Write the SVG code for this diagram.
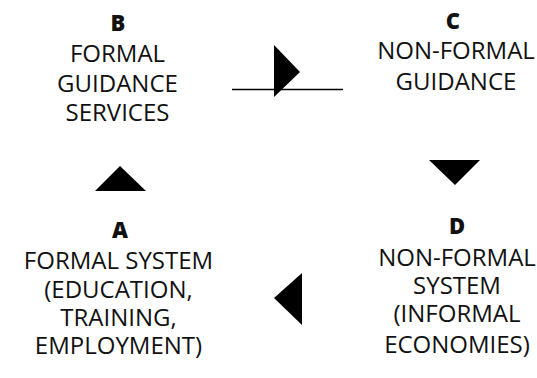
<svg xmlns="http://www.w3.org/2000/svg" width="537" height="378" viewBox="0 0 537 378">
  <style>
    .lbl { font-family: "Open Sans", "Noto Sans", "DejaVu Sans", sans-serif; font-size: 24px; fill: #111; text-anchor: middle; }
    .key { font-family: "Open Sans", "Noto Sans", "DejaVu Sans", sans-serif; font-size: 22px; font-weight: 800; fill: #111; text-anchor: middle; }
    .arrow { fill: #000; stroke: none; }
    .rule { stroke: #000; stroke-width: 1.4; fill: none; }
  </style>
  <rect width="537" height="378" fill="#fff"/>
  <g id="nodeB">
    <text class="key" x="118" y="31">B</text>
    <text class="lbl" x="117.5" y="62">FORMAL</text>
    <text class="lbl" x="117.5" y="92">GUIDANCE</text>
    <text class="lbl" x="117.5" y="121">SERVICES</text>
  </g>
  <g id="nodeC">
    <text class="key" x="453" y="29">C</text>
    <text class="lbl" x="456" y="59">NON-FORMAL</text>
    <text class="lbl" x="456" y="90">GUIDANCE</text>
  </g>
  <g id="nodeA">
    <text class="key" x="120" y="238">A</text>
    <text class="lbl" x="118.5" y="269">FORMAL SYSTEM</text>
    <text class="lbl" x="118.5" y="298">(EDUCATION,</text>
    <text class="lbl" x="118.5" y="326">TRAINING,</text>
    <text class="lbl" x="118.5" y="354">EMPLOYMENT)</text>
  </g>
  <g id="nodeD">
    <text class="key" x="457" y="234">D</text>
    <text class="lbl" x="457" y="266">NON-FORMAL</text>
    <text class="lbl" x="457" y="294">SYSTEM</text>
    <text class="lbl" x="457" y="322">(INFORMAL</text>
    <text class="lbl" x="457" y="353">ECONOMIES)</text>
  </g>
  <g id="connectors">
    <line class="rule" x1="232" y1="89.5" x2="343" y2="89.5"/>
    <polygon class="arrow" points="274,45 274,97 300,72"/>
    <polygon class="arrow" points="429,160 480,160 455,185"/>
    <polygon class="arrow" points="302,273 302,325 274,298"/>
    <polygon class="arrow" points="95,191 146,191 120,166"/>
  </g>
</svg>
